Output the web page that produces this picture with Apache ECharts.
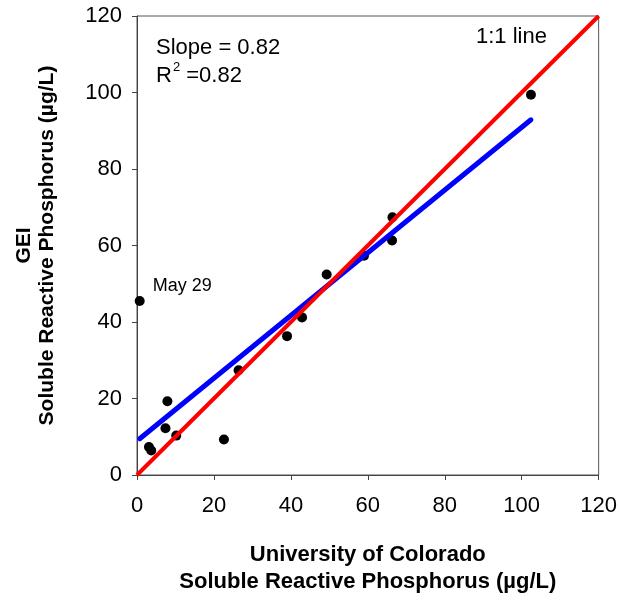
<!DOCTYPE html>
<html>
<head>
<meta charset="utf-8">
<script src="https://cdn.jsdelivr.net/npm/echarts@6/dist/echarts.min.js"></script>
<style>
  html, body { margin: 0; padding: 0; background: #fff; }
  #chart { width: 620px; height: 600px; }
</style>
</head>
<body>
<div id="chart"></div>
<script>
// Soluble reactive phosphorus: University of Colorado (x) vs GEI (y), µg/L
const coloradoSRP = [0.7, 3.1, 3.7, 7.4, 7.9, 10.2, 22.6, 26.4, 39.0, 42.9, 49.3, 59.0, 66.3, 66.4, 102.4];
const geiSRP      = [45.5, 7.3, 6.4, 12.2, 19.3, 10.3, 9.3, 27.4, 36.3, 41.2, 52.4, 57.3, 61.3, 67.4, 99.4];
const pointNotes  = ['May 29', '', '', '', '', '', '', '', '', '', '', '', '', '', ''];

// Least-squares fit reported on the chart
const fitSlope = 0.82;
const fitIntercept = 8.9;
const fitR2 = 0.82;

// Axis range and ticks (shared by both axes)
const axisMin = 0;
const axisMax = 120;
const axisStep = 20;

const FONT = '"Liberation Sans", Arial, Helvetica, sans-serif';

const points = coloradoSRP.map((x, i) => ({
  value: [x, geiSRP[i]],
  label: pointNotes[i] ? {
    show: true,
    formatter: pointNotes[i],
    position: 'right',
    distance: 8,
    offset: [0, -15],
    color: '#000',
    fontFamily: FONT,
    fontSize: 18
  } : { show: false }
}));

const xLo = Math.min(...coloradoSRP);
const xHi = Math.max(...coloradoSRP);
const fitLine = [
  [xLo, fitSlope * xLo + fitIntercept],
  [xHi, fitSlope * xHi + fitIntercept]
];
const oneToOne = [[axisMin, axisMin], [axisMax, axisMax]];

const axisCommon = {
  type: 'value',
  min: axisMin,
  max: axisMax,
  interval: axisStep,
  splitLine: { show: false },
  axisLine: { show: true, onZero: false, lineStyle: { color: '#444', width: 1 } },
  axisTick: { show: true, inside: false, length: 5, lineStyle: { color: '#444' } },
  nameLocation: 'middle'
};

const chart = echarts.init(document.getElementById('chart'), null, { renderer: 'canvas' });

chart.setOption({
  animation: false,
  backgroundColor: '#fff',
  grid: {
    left: 137, top: 16, width: 462, height: 462,
    show: true, borderColor: '#555', borderWidth: 1, backgroundColor: 'transparent'
  },
  xAxis: Object.assign({}, axisCommon, {
    name: 'University of Colorado\nSoluble Reactive Phosphorus (µg/L)',
    nameGap: 66,
    nameTextStyle: { color: '#000', fontFamily: FONT, fontSize: 22, fontWeight: 'bold', lineHeight: 27 },
    axisLabel: { margin: 20, color: '#000', fontFamily: FONT, fontSize: 22 }
  }),
  yAxis: Object.assign({}, axisCommon, {
    name: 'GEI\nSoluble Reactive Phosphorus (µg/L)',
    nameGap: 78,
    nameTextStyle: { color: '#000', fontFamily: FONT, fontSize: 21, fontWeight: 'bold', lineHeight: 23 },
    axisLabel: { margin: 15, color: '#000', fontFamily: FONT, fontSize: 22 }
  }),
  series: [
    {
      name: 'samples',
      type: 'scatter',
      data: points,
      symbol: 'circle',
      symbolSize: 10,
      itemStyle: { color: '#000', opacity: 1 },
      z: 2
    },
    {
      name: 'regression',
      type: 'line',
      data: fitLine,
      showSymbol: false,
      lineStyle: { color: '#0000ff', width: 5, cap: 'round' },
      z: 3
    },
    {
      name: '1:1',
      type: 'line',
      data: oneToOne,
      showSymbol: false,
      clip: true,
      lineStyle: { color: '#ff0000', width: 4 },
      z: 4
    }
  ],
  graphic: [
    {
      type: 'text', left: 156, top: 37,
      style: { text: 'Slope = ' + fitSlope.toFixed(2), font: '22px ' + FONT, fill: '#000' }
    },
    {
      type: 'text', left: 156, top: 61,
      style: {
        text: '{a|R}{s|2}{a| =' + fitR2.toFixed(2) + '}',
        fill: '#000',
        rich: {
          a: { fontFamily: FONT, fontSize: 22, fill: '#000', verticalAlign: 'bottom', lineHeight: 26 },
          s: { fontFamily: FONT, fontSize: 13, fill: '#000', verticalAlign: 'top', lineHeight: 26, padding: [0, 0, 13, 1] }
        }
      }
    },
    {
      type: 'text', left: 476, top: 26,
      style: { text: '1:1 line', font: '22px ' + FONT, fill: '#000' }
    }
  ]
});
</script>
</body>
</html>
